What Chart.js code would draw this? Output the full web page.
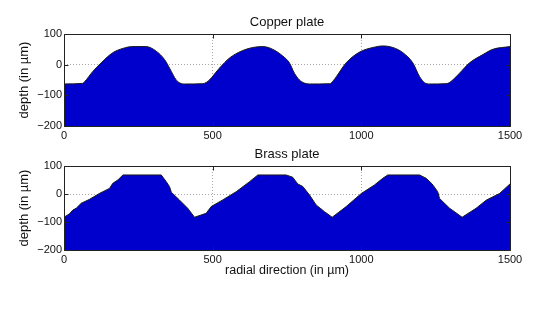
<!DOCTYPE html>
<html>
<head>
<meta charset="utf-8">
<script src="https://cdn.jsdelivr.net/npm/chart.js@4.4.1/dist/chart.umd.min.js"></script>
<style>
    body { margin: 0; background: #fff; }
    #wrap { position: relative; width: 545px; height: 310px; }
    canvas { position: absolute; left: 0; }
</style>
</head>
<body>
<div id="wrap">
    <canvas id="copperChart" width="545" height="145" style="top:0"></canvas>
    <canvas id="brassChart" width="545" height="178" style="top:132px"></canvas>
</div>
<script>
// Profile data (x in µm, depth in µm)
const copperX = [0, 63, 69, 97, 125, 164, 198, 231, 276, 310, 338, 361, 376, 390, 405, 467, 480, 489, 523, 557, 596, 635, 669, 702, 736, 758, 775, 792, 808, 826, 894, 905, 916, 949, 994, 1039, 1072, 1106, 1140, 1173, 1196, 1213, 1229, 1285, 1297, 1330, 1364, 1409, 1442, 1500];
const copperDepth = [-63, -61, -56, -22, 6, 39, 53, 59, 59, 44, 17, -22, -48, -60, -63, -62, -57, -50, -11, 22, 44, 56, 59, 50, 28, 6, -28, -50, -60, -63, -62, -53, -39, 6, 41, 56, 61, 56, 39, 6, -39, -59, -63, -62, -58, -28, 6, 33, 50, 59];

const brassX = [0, 18, 30, 41, 58, 86, 119, 153, 164, 181, 198, 327, 344, 355, 361, 388, 416, 439, 478, 495, 534, 579, 624, 652, 747, 769, 786, 803, 826, 848, 876, 902, 949, 1000, 1044, 1072, 1089, 1196, 1218, 1238, 1257, 1263, 1297, 1339, 1386, 1420, 1465, 1500];
const brassDepth = [-83, -71, -57, -51, -33, -19, 2, 20, 38, 50, 68, 68, 44, 26, 6, -21, -51, -83, -69, -45, -21, 8, 44, 68, 68, 60, 36, 27, -4, -39, -63, -83, -45, 2, 32, 56, 68, 68, 56, 36, 8, -16, -51, -83, -51, -22, 2, 36];

const xTicks = [0, 500, 1000, 1500];
const yTicks = [100, 0, -100, -200];

Chart.defaults.font.family = '"Liberation Sans", Arial, sans-serif';
Chart.defaults.color = '#111';

// Box around the plot with small inward ticks
const frame = {
    id: 'frame',
    afterDatasetsDraw(chart) {
        const { ctx, chartArea: a, scales: { x, y } } = chart;
        const l = a.left + 0.5, r = a.right + 0.5, t = a.top + 0.5, b = a.bottom + 0.5;
        ctx.save();
        ctx.strokeStyle = '#222';
        ctx.lineWidth = 1;
        ctx.beginPath();
        ctx.rect(l, t, r - l, b - t);
        xTicks.forEach(v => {
            const px = Math.round(x.getPixelForValue(v)) + 0.5;
            ctx.moveTo(px, t); ctx.lineTo(px, t + 4);
            ctx.moveTo(px, b); ctx.lineTo(px, b - 4);
        });
        yTicks.forEach(v => {
            const py = Math.round(y.getPixelForValue(v)) + 0.5;
            ctx.moveTo(l, py); ctx.lineTo(l + 4, py);
            ctx.moveTo(r, py); ctx.lineTo(r - 4, py);
        });
        ctx.stroke();
        ctx.restore();
    }
};

function makeChart(id, title, xs, ys, xTitle, xHeight, smooth) {
    const ctx = document.getElementById(id).getContext('2d');
    return new Chart(ctx, {
        type: 'line',
        data: {
            datasets: [{
                data: xs.map((v, i) => ({ x: v, y: ys[i] })),
                borderColor: '#1a1a1a',
                borderWidth: 1,
                backgroundColor: '#0000cd',
                fill: 'start',
                pointRadius: 0,
                cubicInterpolationMode: smooth ? 'monotone' : 'default',
                tension: 0
            }]
        },
        options: {
            responsive: false,
            animation: false,
            layout: { padding: { left: 0, right: 35, top: 0, bottom: 0 } },
            plugins: {
                legend: { display: false },
                tooltip: { enabled: false },
                title: {
                    display: true,
                    text: title,
                    fullSize: false,
                    font: { size: 13, weight: 'normal' },
                    color: '#111',
                    padding: { top: 15, bottom: 3.4 }
                }
            },
            scales: {
                x: {
                    type: 'linear',
                    min: 0,
                    max: 1500,
                    afterBuildTicks: s => { s.ticks = xTicks.map(v => ({ value: v })); },
                    afterFit: s => { s.height = xHeight; },
                    grid: { color: '#a8a8a8', drawTicks: false },
                    border: { display: false, dash: [1, 2] },
                    ticks: {
                        padding: 3,
                        font: { size: 11 },
                        maxRotation: 0,
                        autoSkip: false,
                        callback: v => String(v)
                    },
                    title: {
                        display: !!xTitle,
                        text: xTitle,
                        font: { size: 12.5 },
                        padding: { top: 0, bottom: 31.5 }
                    }
                },
                y: {
                    min: -200,
                    max: 100,
                    afterBuildTicks: s => { s.ticks = yTicks.map(v => ({ value: v })); },
                    afterFit: s => { s.width = 64; },
                    grid: { color: '#a8a8a8', drawTicks: false },
                    border: { display: false, dash: [1, 2] },
                    ticks: {
                        padding: 2,
                        font: { size: 11 },
                        callback: v => String(v).replace('-', '\u2212')
                    },
                    title: {
                        display: true,
                        text: 'depth (in µm)',
                        font: { size: 13 },
                        padding: { top: 17, bottom: 0 }
                    }
                }
            }
        },
        plugins: [frame]
    });
}

makeChart('copperChart', 'Copper plate', copperX, copperDepth, '', 19, true);
makeChart('brassChart', 'Brass plate', brassX, brassDepth, 'radial direction (in µm)', 60, false);
</script>
</body>
</html>
